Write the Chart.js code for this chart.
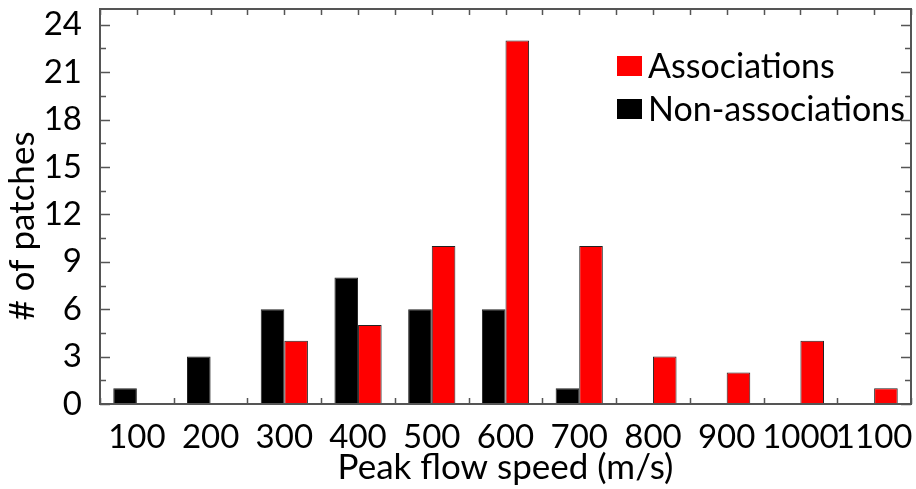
<!DOCTYPE html>
<html>
<head>
<meta charset="utf-8">
<script src="https://cdn.jsdelivr.net/npm/chart.js@4.4.1/dist/chart.umd.min.js"></script>
<style>
  html, body { margin: 0; padding: 0; background: #fff; }
  #wrap { width: 916px; height: 489px; }
</style>
</head>
<body>
<div id="wrap"><canvas id="myChart"></canvas></div>
<script>
const categories = ['100', '200', '300', '400', '500', '600', '700', '800', '900', '1000', '1100']
const nonAssociations = [1, 3, 6, 8, 6, 6, 1, 0, 0, 0, 0]
const associations = [0, 0, 4, 5, 10, 23, 10, 3, 2, 4, 1]
const yTicks = [0, 3, 6, 9, 12, 15, 18, 21, 24]
const yTitle = '# of patches'

const fontFamily = 'Lato'
const frameColor = '#555'

// frame with inward ticks, y title and the legend inside the plot
const framePlugin = {
    id: 'frame',
    afterDraw(chart) {
        const { ctx, chartArea: { left, right, top, bottom }, scales: { x, y } } = chart
        ctx.save()
        ctx.strokeStyle = frameColor
        ctx.lineWidth = 2
        ctx.strokeRect(left, top, right - left, bottom - top)

        ctx.lineWidth = 1.5
        ctx.beginPath()
        for (let v = 0; v <= 25; v += 1.5) {
            const py = Math.round(y.getPixelForValue(v)) + 0.5
            const len = (v % 3 === 0) ? 10 : 6
            ctx.moveTo(left, py); ctx.lineTo(left + len, py)
            ctx.moveTo(right, py); ctx.lineTo(right - len, py)
        }
        for (let i = 0; i <= categories.length; i++) {
            const px = Math.round(x.getPixelForValue(i - 0.5)) + 0.5
            ctx.moveTo(px, bottom); ctx.lineTo(px, bottom - 6)
            ctx.moveTo(px, top); ctx.lineTo(px, top + 6)
        }
        for (let i = 0; i < categories.length; i++) {
            const px = Math.round(x.getPixelForValue(i)) + 0.5
            ctx.moveTo(px, top); ctx.lineTo(px, top + 6)
        }
        ctx.stroke()

        // y title, sits a bit below the middle in the original
        ctx.save()
        ctx.translate(23, 226)
        ctx.rotate(-Math.PI / 2)
        ctx.font = '35px ' + fontFamily
        ctx.fillStyle = '#000'
        ctx.textAlign = 'center'
        ctx.textBaseline = 'middle'
        ctx.fillText(yTitle, 0, 0)
        ctx.restore()

        // legend, Associations first
        const items = chart.data.datasets.slice().reverse()
        ctx.font = '34px ' + fontFamily
        ctx.textBaseline = 'middle'
        items.forEach((ds, i) => {
            const cy = 66 + i * 43
            ctx.fillStyle = ds.backgroundColor
            ctx.fillRect(617, cy - 10, 25, 20)
            ctx.fillStyle = '#000'
            ctx.fillText(ds.label, 648, cy + 1)
        })
        ctx.restore()
    }
}

const ctx = document.getElementById('myChart')

new Chart(ctx, {
    type: 'bar',
    data: {
        labels: categories,
        datasets: [{
            label: 'Non-associations',
            data: nonAssociations,
            backgroundColor: '#000',
            borderColor: '#222',
            borderWidth: c => c.raw === 0 ? 0 : 1
        }, {
            label: 'Associations',
            data: associations,
            backgroundColor: '#ff0000',
            borderColor: '#222',
            borderWidth: c => c.raw === 0 ? 0 : 1
        }]
    },
    options: {
        responsive: true,
        maintainAspectRatio: false,
        animation: false,
        layout: { padding: { top: 9, right: 5, left: 0, bottom: 0 } },
        datasets: {
            bar: { categoryPercentage: 0.64, barPercentage: 1.0 }
        },
        scales: {
            x: {
                grid: { display: false },
                border: { display: false },
                ticks: {
                    color: '#000',
                    font: { family: fontFamily, size: 33 },
                    autoSkip: false,
                    maxRotation: 0,
                    padding: 6
                },
                title: {
                    display: true,
                    text: 'Peak flow speed (m/s)',
                    color: '#000',
                    font: { family: fontFamily, size: 35 },
                    padding: { top: -4, bottom: 0 }
                },
                afterFit(scale) {
                    scale.height = 85
                    scale.paddingLeft = 0
                    scale.paddingRight = 0
                }
            },
            y: {
                min: 0,
                max: 25,
                grid: { display: false },
                border: { display: false },
                afterBuildTicks(scale) { scale.ticks = yTicks.map(v => ({ value: v })) },
                ticks: {
                    color: '#000',
                    font: { family: fontFamily, size: 33 },
                    padding: 10
                },
                title: { display: false },
                afterFit(scale) {
                    scale.width = 100
                    scale.paddingTop = 0
                    scale.paddingBottom = 0
                }
            }
        },
        plugins: {
            legend: { display: false },
            tooltip: { enabled: false }
        }
    },
    plugins: [framePlugin]
})
</script>
</body>
</html>
